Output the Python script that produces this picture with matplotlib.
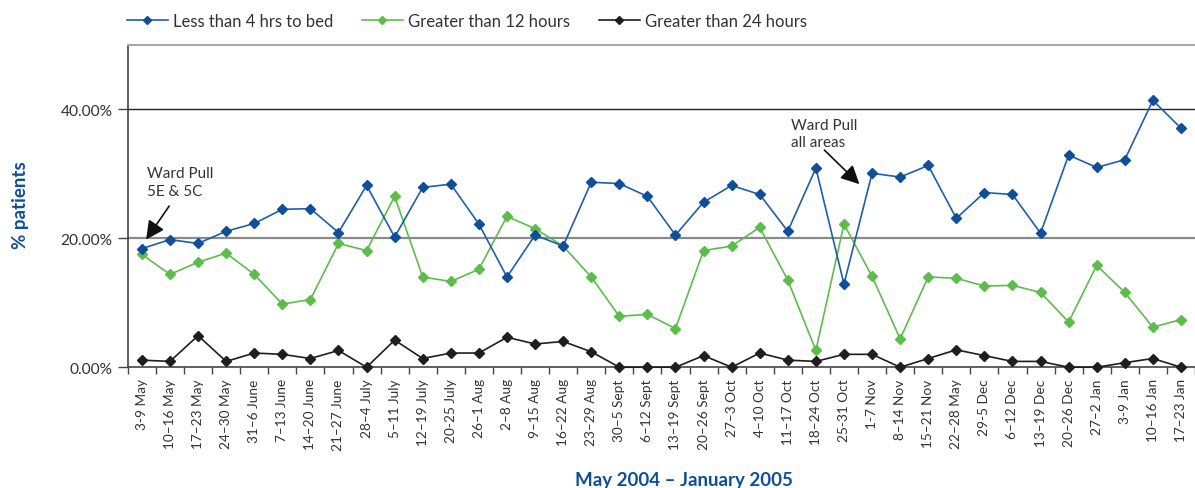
import matplotlib.pyplot as plt
import numpy as np
from matplotlib.ticker import FuncFormatter, FixedLocator

plt.rcParams['font.family'] = ['Lato', 'DejaVu Sans']

weeks = ['3-9 May', '10\u201316 May', '17\u201323 May', '24\u201330 May', '31\u20136 June',
         '7\u201313 June', '14\u201320 June', '21\u201327 June', '28\u20134 July', '5\u201311 July',
         '12\u201319 July', '20-25 July', '26\u20131 Aug', '2\u20138 Aug', '9\u201315 Aug',
         '16\u201322 Aug', '23\u201329 Aug', '30\u20135 Sept', '6\u201312 Sept', '13\u201319 Sept',
         '20\u201326 Sept', '27\u20133 Oct', '4\u201310 Oct', '11\u201317 Oct', '18\u201324 Oct',
         '25-31 Oct', '1-7 Nov', '8\u201314 Nov', '15\u201321 Nov', '22\u201328 May',
         '29-5 Dec', '6\u201312 Dec', '13\u201319 Dec', '20\u201326 Dec', '27\u20132 Jan',
         '3-9 Jan', '10\u201316 Jan', '17\u201323 Jan']

# % of patients
less_4hrs = [18.4, 19.8, 19.2, 21.1, 22.3, 24.5, 24.6, 20.9, 28.2, 20.2,
             27.9, 28.4, 22.2, 14.0, 20.5, 18.8, 28.7, 28.5, 26.5, 20.5,
             25.6, 28.2, 26.8, 21.1, 30.9, 12.9, 30.1, 29.5, 31.3, 23.1,
             27.1, 26.8, 20.8, 32.9, 31.0, 32.2, 41.4, 37.1]
over_12hrs = [17.5, 14.4, 16.3, 17.7, 14.4, 9.8, 10.5, 19.2, 18.1, 26.5,
              14.0, 13.3, 15.2, 23.4, 21.5, 18.8, 14.0, 7.9, 8.2, 6.0,
              18.1, 18.8, 21.7, 13.5, 2.6, 22.2, 14.1, 4.4, 14.0, 13.8,
              12.6, 12.7, 11.6, 7.0, 15.8, 11.6, 6.2, 7.4]
over_24hrs = [1.1, 0.9, 4.9, 0.9, 2.2, 2.0, 1.35, 2.6, 0.0, 4.2,
              1.35, 2.2, 2.2, 4.65, 3.6, 4.0, 2.4, 0.0, 0.0, 0.0,
              1.8, 0.0, 2.2, 1.1, 0.9, 2.0, 2.0, 0.0, 1.35, 2.7,
              1.8, 0.9, 0.9, 0.0, 0.0, 0.7, 1.35, 0.0]

blue = '#0f4f9a'
green = '#5cbd4b'
black = '#1e1e1e'
txt = '#333333'

fig = plt.figure(figsize=(11.95, 4.89), dpi=100)
ax = fig.add_axes([0.107, 0.247, 0.893, 0.659])

x = np.arange(len(weeks))
ax.plot(x, less_4hrs, color='#1f5fa8', lw=1.2, marker='D', ms=5.5, mfc=blue, mec=blue,
        label='Less than 4 hrs to bed', zorder=4)
ax.plot(x, over_12hrs, color=green, lw=1.2, marker='D', ms=5.5, mfc=green, mec=green,
        label='Greater than 12 hours', zorder=3)
ax.plot(x, over_24hrs, color=black, lw=1.2, marker='D', ms=5.5, mfc=black, mec=black,
        label='Greater than 24 hours', zorder=5, clip_on=False)

ax.set_xlim(-0.5, len(weeks) - 0.5)
ax.set_ylim(0, 50)

# gridlines
ax.axhline(40, color='#222222', lw=1.0, zorder=1)
ax.axhline(20, color='#8a8a8a', lw=1.6, zorder=1)

ax.set_yticks([0, 20, 40])
ax.yaxis.set_major_formatter(FuncFormatter(lambda v, p: f'{v:.2f}%'))
ax.tick_params(axis='y', direction='out', length=7, width=1, colors='#444444',
               labelcolor=txt, labelsize=11.2, pad=4)

ax.set_xticks(x)
ax.set_xticklabels(weeks, rotation=90, fontsize=9.8, color=txt)
ax.tick_params(axis='x', which='major', length=0, pad=8)
ax.xaxis.set_minor_locator(FixedLocator(np.arange(-0.5, len(weeks), 1.0)))
ax.tick_params(axis='x', which='minor', direction='out', length=5, width=1, color='#444444')

for s in ['left', 'bottom']:
    ax.spines[s].set_color('#444444')
    ax.spines[s].set_linewidth(1.2)
ax.spines['top'].set_color('#a8a8a8')
ax.spines['top'].set_linewidth(1.5)
ax.spines['right'].set_visible(False)

fig.text(0.017, 0.58, '% patients', color=blue, fontsize=13.5, fontweight='bold',
         rotation=90, ha='center', va='center')
fig.text(0.572, 0.018, 'May 2004 \u2013 January 2005', color=blue, fontsize=13.5,
         fontweight='bold', ha='center', va='center')

arrow = dict(arrowstyle='-|>', color='#111111', lw=1.2, mutation_scale=28,
             shrinkA=0, shrinkB=0)
ax.text(0.18, 26.3, 'Ward Pull\n5E & 5C', fontsize=11, color=txt, ha='left', va='bottom',
        linespacing=1.3)
ax.annotate('', xy=(0.15, 19.8), xytext=(0.97, 25.0), arrowprops=arrow)
ax.text(23.1, 33.8, 'Ward Pull\nall areas', fontsize=11, color=txt, ha='left', va='bottom',
        linespacing=1.3)
ax.annotate('', xy=(25.55, 28.4), xytext=(24.3, 33.7), arrowprops=arrow)

fig.legend(loc='center left', bbox_to_anchor=(0.106, 0.955), ncol=3, frameon=False,
           fontsize=12, handlelength=2.45, handletextpad=0.3, columnspacing=1.75,
           markerscale=0.8, labelcolor=txt, borderpad=0, borderaxespad=0)

fig.savefig('out.png', dpi=100)
